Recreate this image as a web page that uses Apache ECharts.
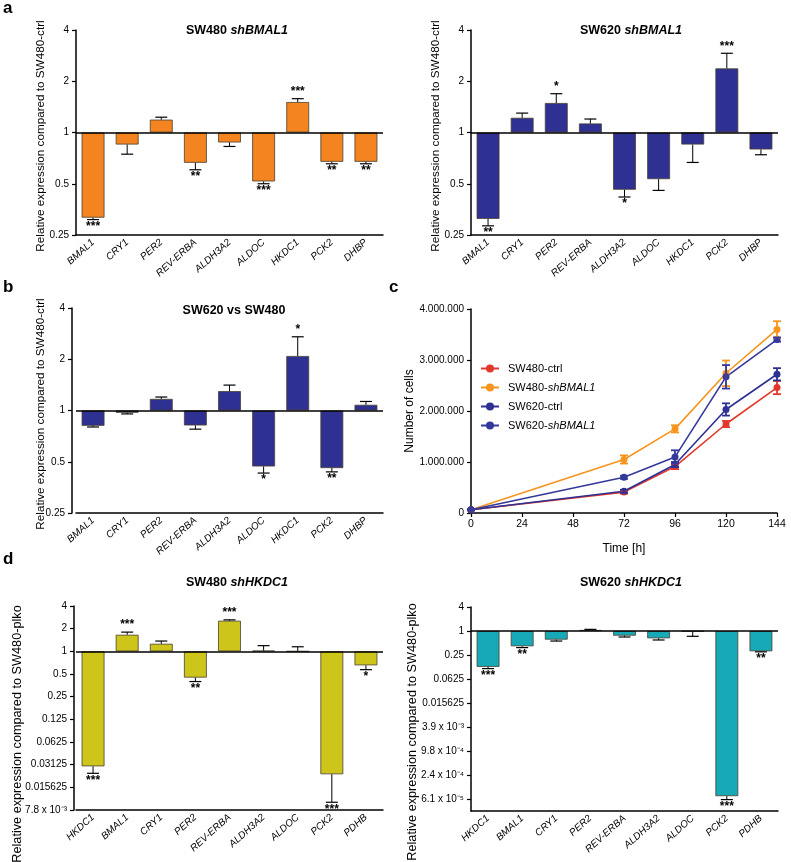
<!DOCTYPE html>
<html><head><meta charset="utf-8">
<script src="https://cdn.jsdelivr.net/npm/echarts@6/dist/echarts.min.js"></script>
<style>html,body{margin:0;padding:0;background:#fff}#c{width:791px;height:862px}</style>
</head><body><div id="c"></div>
<script>
// ---------- data ----------
const genesA = ['BMAL1','CRY1','PER2','REV-ERBA','ALDH3A2','ALDOC','HKDC1','PCK2','DHBP'];
const aLeftVals  = [0.316,0.85,1.19,0.664,0.874,0.516,1.51,0.673,0.673];
const aLeftErr   = [0.308,0.746,1.23,0.604,0.828,0.50,1.58,0.655,0.655];
const aLeftStars = ['***','','','**','','***','***','**','**'];
const aRightVals  = [0.311,1.22,1.49,1.13,0.461,0.532,0.85,2.38,0.795];
const aRightErr   = [0.283,1.30,1.69,1.20,0.418,0.457,0.667,2.92,0.74];
const aRightStars = ['**','','*','','*','','','***',''];
const bVals  = [0.813,0.97,1.17,0.817,1.30,0.469,2.09,0.459,1.08];
const bErr   = [0.80,0.955,1.20,0.777,1.41,0.429,2.71,0.436,1.13];
const bStars = ['','','','','','*','*','**',''];
const genesD = ['HKDC1','BMAL1','CRY1','PER2','REV-ERBA','ALDH3A2','ALDOC','PCK2','PDHB'];
const dLeftVals  = [0.0297,1.66,1.26,0.448,2.55,1.02,1.0,0.0233,0.652];
const dLeftErr   = [0.024,1.80,1.37,0.397,2.62,1.19,1.15,0.0099,0.571];
const dLeftStars = ['***','***','','**','***','','','***','*'];
const dRightVals  = [0.126,0.414,0.607,1.06,0.764,0.655,0.975,7.2e-5,0.31];
const dRightErr   = [0.114,0.383,0.56,1.10,0.707,0.595,0.736,5.9e-5,0.30];
const dRightStars = ['***','**','','','','','','***','**'];

const aTicks = ['0.25','0.5','1','2','4'];                       // 2^-2 .. 2^2
const dLeftTicks = ['7.8 x 10⁻³','0.015625','0.03125','0.0625','0.125','0.25','0.5','1','2','4']; // 2^-7 .. 2^2
const dRightTicks = ['6.1 x 10⁻⁵','2.4 x 10⁻⁴','9.8 x 10⁻⁴','3.9 x 10⁻³','0.015625','0.0625','0.25','1','4']; // 2^-14 .. 2^2 step 2

const cTimes = [0,72,96,120,144];
const cSeriesNames = ['SW480-ctrl','SW480-shBMAL1','SW620-ctrl','SW620-shBMAL1'];
const c480ctrl    = [65000, 410000, 910000, 1745000, 2460000];
const c480ctrlErr = [10000, 30000, 50000, 60000, 130000];
const c480sh      = [65000, 1050000, 1650000, 2740000, 3600000];
const c480shErr   = [10000, 80000, 70000, 250000, 160000];
const c620ctrl    = [65000, 425000, 950000, 2030000, 2720000];
const c620ctrlErr = [10000, 30000, 50000, 120000, 120000];
const c620sh      = [65000, 700000, 1100000, 2670000, 3400000];
const c620shErr   = [10000, 30000, 130000, 230000, 40000];
const cCountTicks = ['0','1.000.000','2.000.000','3.000.000','4.000.000'];

// ---------- style ----------
const FONT = '"Liberation Sans", Arial, Helvetica, sans-serif';
const ORANGE = '#f3841f', NAVY = '#2e3192', NAVY2 = '#34399b', OLIVE = '#cec51b', TEAL = '#17a9b5', RED = '#e2382c', LORANGE = '#f7941d';

const grids = [
  {left:76, top:30, width:307, height:205},
  {left:471, top:30, width:307, height:205},
  {left:76, top:308, width:307, height:205},
  {left:471, top:309, width:306, height:204},
  {left:76, top:606, width:307, height:204},
  {left:471, top:607, width:307, height:204}
];

function catAxis(gi, cats) {
  return {type:'category', gridIndex:gi, data:cats,
    axisLine:{lineStyle:{color:'#000', width:1.5}},
    axisTick:{alignWithLabel:true, length:4, lineStyle:{color:'#000', width:1.2}},
    axisLabel:{rotate:42, interval:0, margin:6, fontSize:10, fontStyle:'italic', color:'#000', fontFamily:FONT},
    splitLine:{show:false}};
}
function logAxis(gi, minExp, maxExp, labels, labMin, step, offset, extra) {
  const ax = {type:'log', logBase:2, gridIndex:gi, min:Math.pow(2,minExp), max:Math.pow(2,maxExp), interval:1,
    offset: offset || 0,
    axisLine:{show:true, lineStyle:{color:'#000', width:1.5}},
    axisTick:{show:true, length:4, lineStyle:{color:'#000', width:1.2}},
    splitLine:{show:false},
    axisLabel:{fontSize:10, color:'#000', fontFamily:FONT, margin:7,
      formatter: v => { const e = Math.round(Math.log2(v)); const k = (e - labMin)/step; return (Number.isInteger(k) && labels[k]) ? labels[k] : ''; }}
  };
  if (extra) {
    ax.axisTick.customValues = extra; ax.axisLabel.customValues = extra;
  }
  return ax;
}
function barSeries(gi, vals, color) {
  return {type:'bar', xAxisIndex:gi, yAxisIndex:gi, data:vals, barWidth:'67%',
    itemStyle:{color:color, borderColor:'#4a4030', borderWidth:0.8},
    markLine:{silent:true, symbol:'none', label:{show:false}, lineStyle:{color:'#000', type:'solid', width:1.6},
      data:[{yAxis:1}], animation:false},
    animation:false};
}
function errSeries(gi, vals, errs, stars) {
  return {type:'custom', xAxisIndex:gi, yAxisIndex:gi, z:3, clip:false, animation:false,
    data: vals.map((v,i)=>[i, v, errs[i]]),
    renderItem(params, api) {
      const i = api.value(0);
      const p1 = api.coord([i, api.value(1)]), p2 = api.coord([i, api.value(2)]);
      const up = p2[1] < p1[1];
      const ch = [
        {type:'line', shape:{x1:p1[0], y1:p1[1], x2:p2[0], y2:p2[1]}, style:{stroke:'#000', lineWidth:1}},
        {type:'line', shape:{x1:p2[0]-6, y1:p2[1], x2:p2[0]+6, y2:p2[1]}, style:{stroke:'#000', lineWidth:1.2}}
      ];
      if (stars[i]) ch.push({type:'text', x:p2[0], y: up ? p2[1]-1 : p2[1]+1,
        style:{text:stars[i], fill:'#000', font:'bold 12px ' + FONT, align:'center', verticalAlign: up ? 'bottom' : 'top'}});
      return {type:'group', children:ch};
    }};
}
function lineSeries(name, vals, color) {
  return {type:'line', name:name, xAxisIndex:3, yAxisIndex:3, data:cTimes.map((t,i)=>[t, vals[i]]),
    symbol:'circle', symbolSize:7, itemStyle:{color:color}, lineStyle:{color:color, width:1.6}, animation:false, z:4};
}
function lineErr(vals, errs, color) {
  return {type:'custom', xAxisIndex:3, yAxisIndex:3, z:5, animation:false,
    data: cTimes.map((t,i)=>[t, vals[i], errs[i]]),
    renderItem(params, api) {
      const t = api.value(0), v = api.value(1), e = api.value(2);
      const a = api.coord([t, v+e]), b = api.coord([t, v-e]);
      return {type:'group', children:[
        {type:'line', shape:{x1:a[0], y1:a[1], x2:b[0], y2:b[1]}, style:{stroke:color, lineWidth:1.8}},
        {type:'line', shape:{x1:a[0]-4, y1:a[1], x2:a[0]+4, y2:a[1]}, style:{stroke:color, lineWidth:1.8}},
        {type:'line', shape:{x1:b[0]-4, y1:b[1], x2:b[0]+4, y2:b[1]}, style:{stroke:color, lineWidth:1.8}}
      ]};
    }};
}
function titleText(x, y, parts) {
  return {type:'text', x:x, y:y, style:{text:parts, align:'center', verticalAlign:'middle', fill:'#000',
    rich:{b:{fontFamily:FONT, fontSize:12.5, fontWeight:'bold', fill:'#000'}, bi:{fontFamily:FONT, fontSize:12.5, fontWeight:'bold', fontStyle:'italic', fill:'#000'}}}};
}
function yName(x, y, txt, size) {
  return {type:'text', x:x, y:y, rotation:Math.PI/2, style:{text:txt, align:'center', verticalAlign:'middle', fill:'#000', font:size + 'px ' + FONT}};
}
function letter(x, y, t) {
  return {type:'text', x:x, y:y, style:{text:t, fill:'#000', font:'bold 17px ' + FONT, align:'left', verticalAlign:'bottom'}};
}

const dRightCustom = [];
for (let e = -14; e <= 2; e += 2) dRightCustom.push(Math.pow(2, e));

const option = {
  backgroundColor:'#fff',
  animation:false,
  textStyle:{fontFamily:FONT},
  grid: grids,
  xAxis: [
    catAxis(0, genesA), catAxis(1, genesA), catAxis(2, genesA),
    {type:'value', gridIndex:3, min:0, max:144, interval:24,
      axisLine:{lineStyle:{color:'#000', width:1.5}}, axisTick:{length:4, lineStyle:{color:'#000', width:1.2}},
      axisLabel:{fontSize:10.5, color:'#000', margin:6, fontFamily:FONT}, splitLine:{show:false},
      name:'Time [h]', nameLocation:'middle', nameGap:30, nameTextStyle:{fontSize:12, color:'#000', fontFamily:FONT}},
    catAxis(4, genesD), catAxis(5, genesD)
  ],
  yAxis: [
    logAxis(0, -2, 2, aTicks, -2, 1),
    logAxis(1, -2, 2, aTicks, -2, 1),
    logAxis(2, -2, 2, aTicks, -2, 1, 4),
    {type:'value', gridIndex:3, min:0, max:4000000, interval:1000000,
      axisLine:{show:true, lineStyle:{color:'#000', width:1.5}}, axisTick:{show:true, length:4, lineStyle:{color:'#000', width:1.2}},
      axisLabel:{fontSize:10, color:'#000', margin:7, fontFamily:FONT, formatter: v => cCountTicks[Math.round(v/1000000)]},
      splitLine:{show:false}},
    logAxis(4, -7, 2, dLeftTicks, -7, 1, 2),
    logAxis(5, -15, 2, dRightTicks, -14, 2, 0, dRightCustom)
  ],
  legend: {orient:'vertical', left:480, top:363, itemWidth:18, itemHeight:10, itemGap:8, padding:0,
    data: cSeriesNames,
    formatter: n => { const k = n.indexOf('sh'); return k < 0 ? '{r|' + n + '}' : '{r|' + n.slice(0,k) + '}{i|' + n.slice(k) + '}'; },
    textStyle:{fontSize:11, color:'#000', fontFamily:FONT, padding:[0,0,0,4],
      rich:{r:{fontSize:11, fontFamily:FONT, color:'#000'}, i:{fontSize:11, fontFamily:FONT, fontStyle:'italic', color:'#000'}}}},
  series: [
    barSeries(0, aLeftVals, ORANGE), errSeries(0, aLeftVals, aLeftErr, aLeftStars),
    barSeries(1, aRightVals, NAVY), errSeries(1, aRightVals, aRightErr, aRightStars),
    barSeries(2, bVals, NAVY), errSeries(2, bVals, bErr, bStars),
    lineSeries(cSeriesNames[0], c480ctrl, RED), lineErr(c480ctrl, c480ctrlErr, RED),
    lineSeries(cSeriesNames[1], c480sh, LORANGE), lineErr(c480sh, c480shErr, LORANGE),
    lineSeries(cSeriesNames[2], c620ctrl, NAVY), lineErr(c620ctrl, c620ctrlErr, NAVY),
    lineSeries(cSeriesNames[3], c620sh, NAVY2), lineErr(c620sh, c620shErr, NAVY2),
    barSeries(4, dLeftVals, OLIVE), errSeries(4, dLeftVals, dLeftErr, dLeftStars),
    barSeries(5, dRightVals, TEAL), errSeries(5, dRightVals, dRightErr, dRightStars)
  ],
  graphic: [
    letter(3, 17, 'a'), letter(3, 296, 'b'), letter(389, 296, 'c'), letter(3, 568, 'd'),
    titleText(237, 31, '{b|SW480 }{bi|shBMAL1}'),
    titleText(631, 31, '{b|SW620 }{bi|shBMAL1}'),
    titleText(234, 311, '{b|SW620 vs SW480}'),
    titleText(237, 583, '{b|SW480 }{bi|shHKDC1}'),
    titleText(631, 583, '{b|SW620 }{bi|shHKDC1}'),
    yName(41, 136, 'Relative expression compared to SW480-ctrl', 11.7),
    yName(436, 136, 'Relative expression compared to SW480-ctrl', 11.7),
    yName(41, 414, 'Relative expression compared to SW480-ctrl', 11.7),
    yName(410, 411, 'Number of cells', 12),
    yName(17, 734, 'Relative expression compared to SW480-plko', 12.7),
    yName(412, 732, 'Relative expression compared to SW480-plko', 12.7)
  ]
};
const chart = echarts.init(document.getElementById('c'), null, {renderer:'canvas'});
chart.setOption(option);
</script></body></html>
